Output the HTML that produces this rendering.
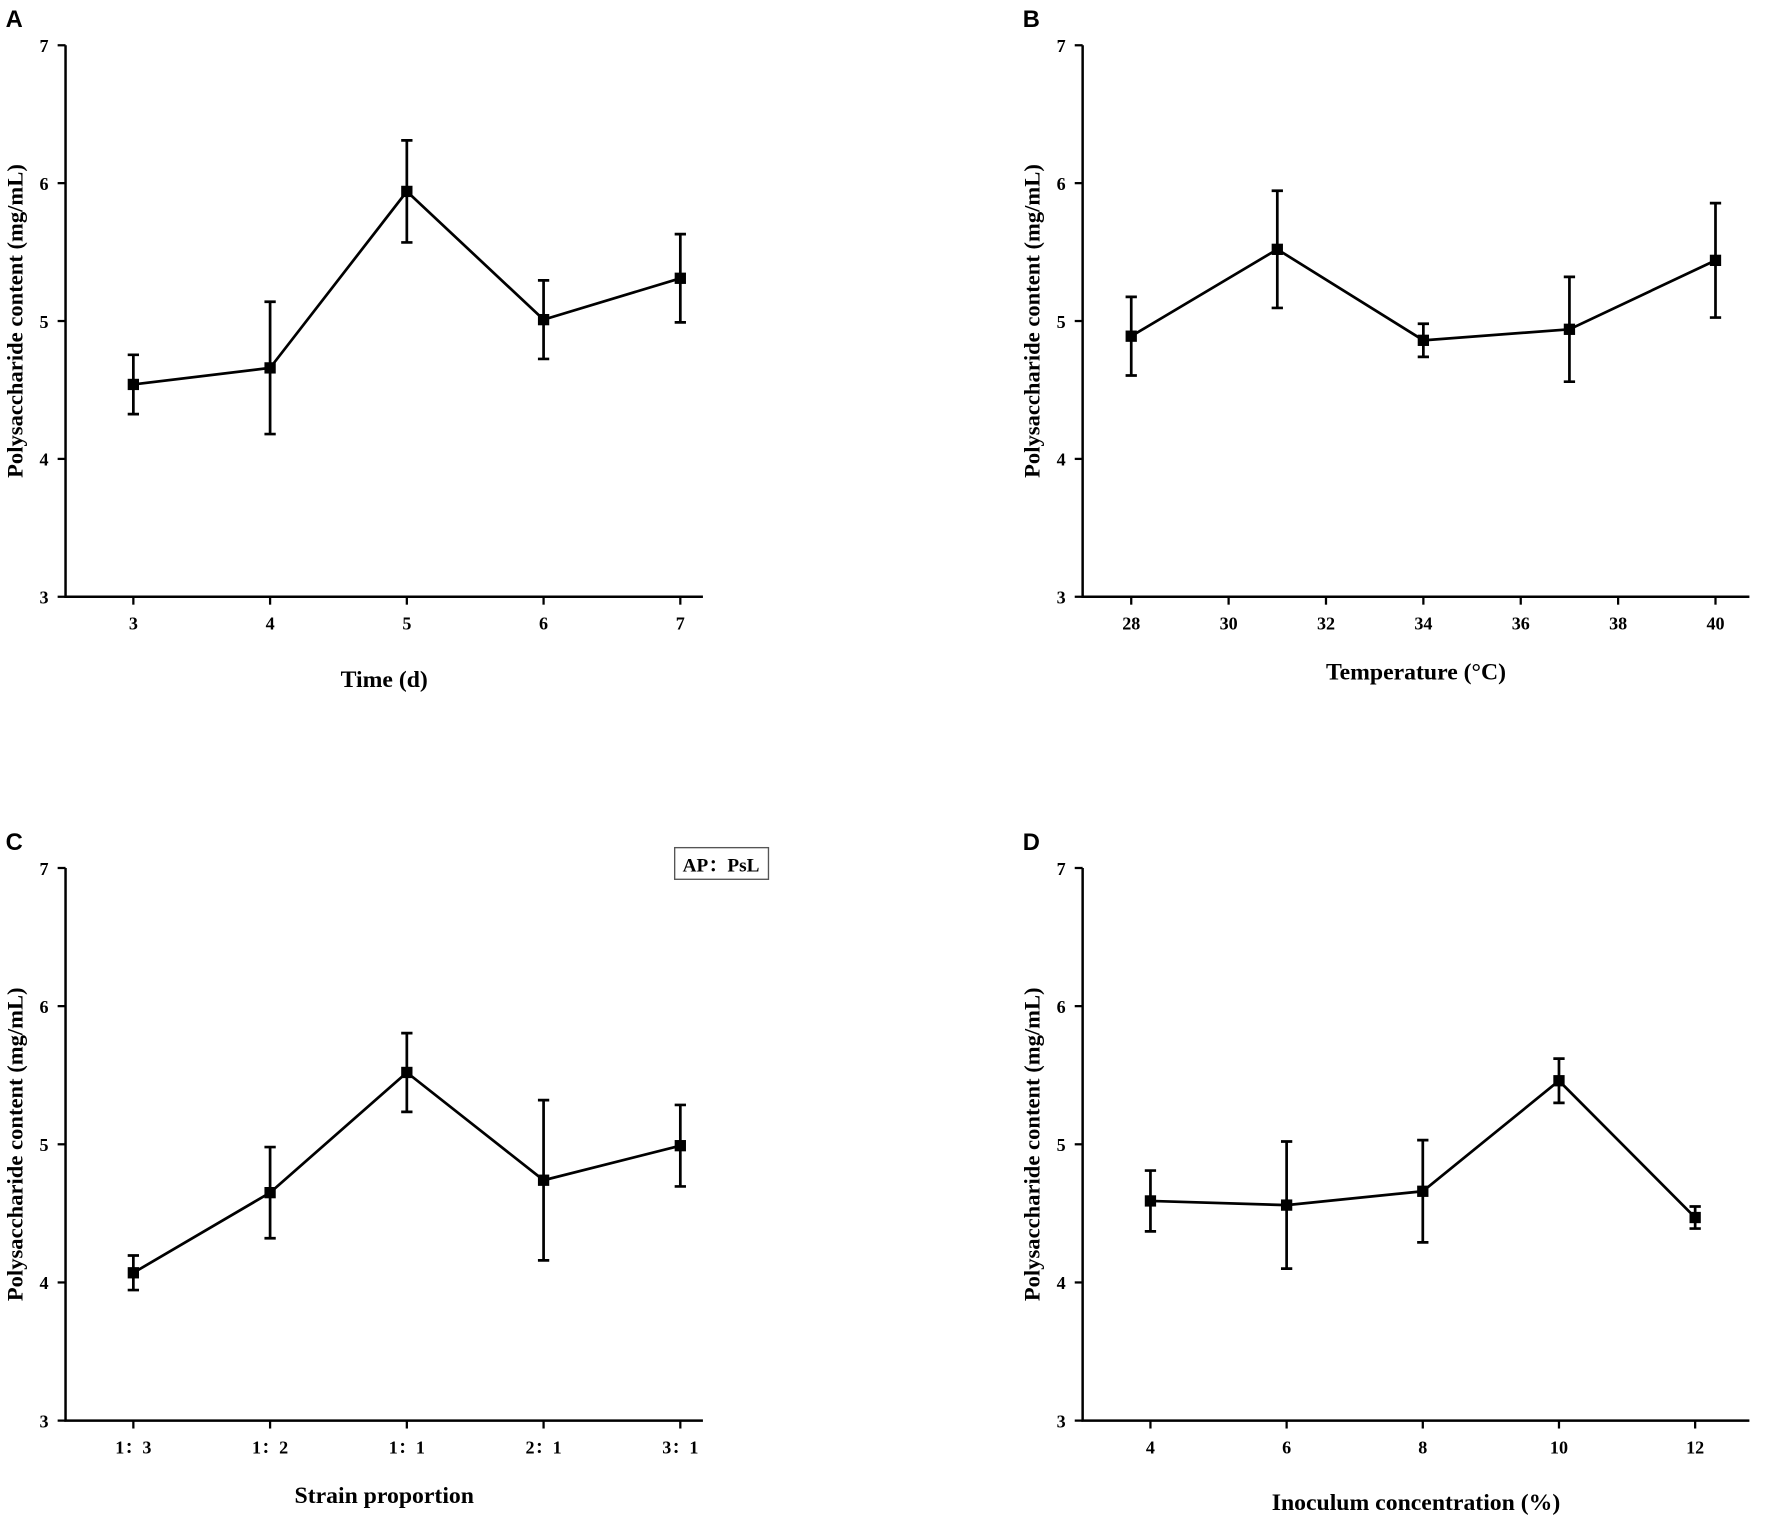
<!DOCTYPE html>
<html><head><meta charset="utf-8"><style>
html,body{margin:0;padding:0;background:#fff}
svg{display:block}
</style></head><body>
<svg id="fig" width="1772" height="1519" viewBox="0 0 1568 1344" xmlns="http://www.w3.org/2000/svg"></svg>
<script>
const catsA=["3","4","5","6","7"];
const valsA=[4.54,4.66,5.94,5.01,5.31];
const errA=[0.215,0.48,0.37,0.285,0.32];
const ticksB=[28,30,32,34,36,38,40];
const xB=[28,31,34,37,40];
const valsB=[4.89,5.52,4.86,4.94,5.44];
const errB=[0.285,0.425,0.12,0.38,0.415];
const catsC=["1：3","1：2","1：1","2：1","3：1"];
const valsC=[4.07,4.65,5.52,4.74,4.99];
const errC=[0.125,0.33,0.285,0.58,0.295];
const ticksD=[4,6,8,10,12];
const xD=[4,6,8,10,12];
const valsD=[4.59,4.56,4.66,5.46,4.47];
const errD=[0.22,0.46,0.37,0.16,0.08];
const yTicks=[3,4,5,6,7];

const NS="http://www.w3.org/2000/svg";
const svg=document.getElementById('fig');
function mk(tag,attrs,parent){const e=document.createElementNS(NS,tag);for(const k in attrs)e.setAttribute(k,attrs[k]);(parent||svg).appendChild(e);return e;}

function panel(o){
  const g=mk('g',{});
  
  
  const y=v=>o.yb-(v-3)/4*(o.yb-o.yt);
  const x=o.xf;
  const L=mk('text',{x:o.ax-53,y:o.yt-16,'font-family':'Liberation Sans, sans-serif','font-weight':'bold','font-size':21},g);
  L.textContent=o.id;
  
  
  const ax=mk('path',{d:`M${o.ax},${o.yt} V${o.yb} H${o.xr}`,stroke:'#000','stroke-width':2.2,fill:'none'},g);
  
  
  yTicks.forEach(t=>{
    mk('line',{x1:o.ax-7,x2:o.ax,y1:y(t),y2:y(t),stroke:'#000','stroke-width':2},g);
    const tx=mk('text',{x:o.ax-15,y:y(t)+6,'text-anchor':'end','font-family':'Liberation Serif, serif','font-weight':'bold','font-size':16},g);
    tx.textContent=t;
    
    
  });
  o.xticks.forEach((t,i)=>{
    const xx=x(o.xtickVals[i]);
    mk('line',{x1:xx,x2:xx,y1:o.yb,y2:o.yb+7,stroke:'#000','stroke-width':2},g);
    const tx=mk('text',{x:xx,y:o.yb+29,'text-anchor':'middle','font-family':'Liberation Serif, "Noto Serif CJK SC", serif','font-weight':'bold','font-size':16},g);
    tx.textContent=t;
    
    
  });
  const xt=mk('text',{x:(o.ax+o.xr)/2-(o.xtOff||0),y:o.yb+o.xtitleDy,'text-anchor':'middle','font-family':'Liberation Serif, serif','font-weight':'bold','font-size':21},g);
  xt.textContent=o.xtitle;
  
  
  const cy=(o.yt+o.yb)/2;
  const yt=mk('text',{x:0,y:0,transform:`translate(${o.ax-38},${cy}) rotate(-90)`,'text-anchor':'middle','font-family':'Liberation Serif, serif','font-weight':'bold','font-size':20},g);
  yt.textContent='Polysaccharide content (mg/mL)';
  
  
  const pts=o.vals.map((v,i)=>x(o.xs[i])+','+y(v)).join(' ');
  const pl=mk('polyline',{points:pts,fill:'none',stroke:'#000','stroke-width':2.4},g);
  
  
  o.vals.forEach((v,i)=>{
    const xx=x(o.xs[i]),e=o.errs[i];
    const eb=mk('path',{d:`M${xx},${y(v-e)}V${y(v+e)}M${xx-5},${y(v-e)}H${xx+5}M${xx-5},${y(v+e)}H${xx+5}`,stroke:'#000','stroke-width':2.4,fill:'none'},g);
    
    
    const m=mk('rect',{x:xx-5,y:y(v)-5,width:10,height:10,fill:'#000'},g);
    
    
  });
  return g;
}
const lin=(a,b,pa,pb)=>v=>pa+(v-a)/(b-a)*(pb-pa);
panel({id:'A',ax:58,yt:40,yb:528,xr:622,xf:lin(0,4,118,602),xticks:catsA,xtickVals:[0,1,2,3,4],xs:[0,1,2,3,4],vals:valsA,errs:errA,xtitle:'Time (d)',xtitleDy:80});
panel({id:'B',ax:958,yt:40,yb:528,xr:1548,xf:lin(28,40,1001,1518),xticks:ticksB.map(String),xtickVals:ticksB,xs:xB,vals:valsB,errs:errB,xtitle:'Temperature (°C)',xtitleDy:73});
panel({id:'C',ax:58,yt:768,yb:1257,xr:622,xf:lin(0,4,118,602),xticks:catsC,xtickVals:[0,1,2,3,4],xs:[0,1,2,3,4],vals:valsC,errs:errC,xtitle:'Strain proportion',xtitleDy:73});
panel({id:'D',ax:958,yt:768,yb:1257,xr:1548,xf:lin(4,12,1018,1500),xticks:ticksD.map(String),xtickVals:ticksD,xs:xD,vals:valsD,errs:errD,xtitle:'Inoculum concentration (%)',xtitleDy:79});
const lg=mk('g',{});


mk('rect',{x:597,y:750,width:83,height:28,fill:'#fff',stroke:'#555','stroke-width':1.2},lg);
const lt=mk('text',{x:638,y:771,'text-anchor':'middle','font-family':'Liberation Serif, "Noto Serif CJK SC", serif','font-weight':'bold','font-size':17},lg);
lt.textContent='AP：PsL';
</script>
</body></html>
